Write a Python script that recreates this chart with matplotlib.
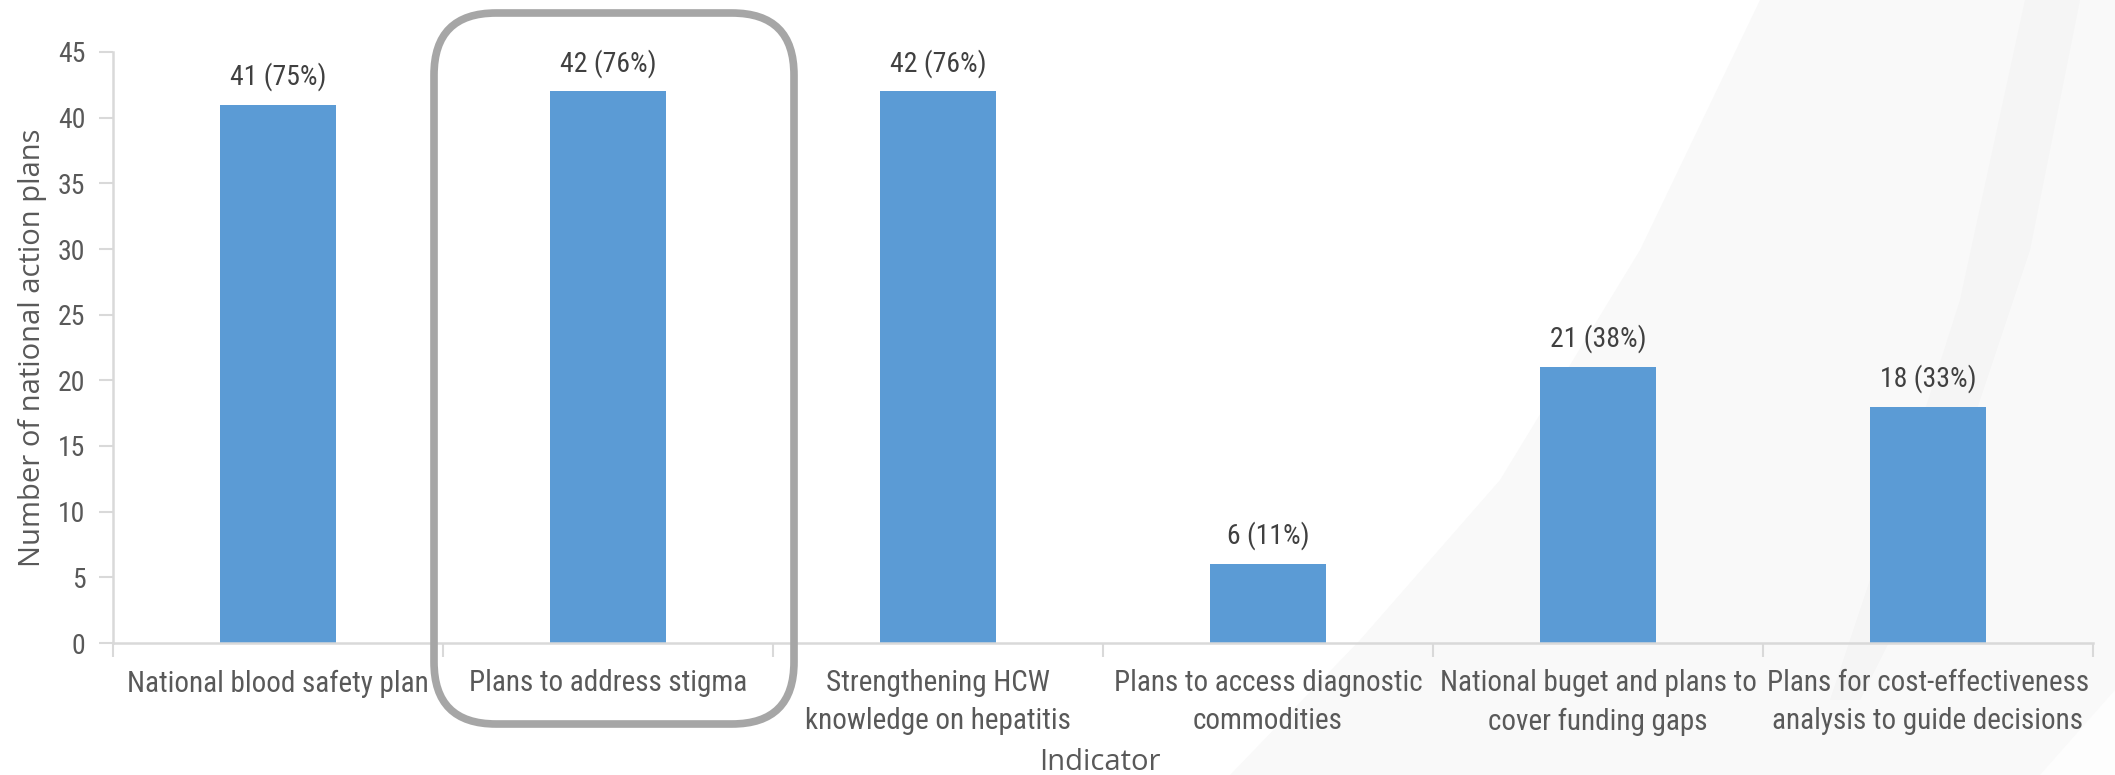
import matplotlib
matplotlib.use("Agg")
import matplotlib.pyplot as plt
from matplotlib.patches import FancyBboxPatch, Polygon
from matplotlib.transforms import IdentityTransform
import numpy as np

categories = [
    "National blood safety plan",
    "Plans to address stigma",
    "Strengthening HCW\nknowledge on hepatitis",
    "Plans to access diagnostic\ncommodities",
    "National buget and plans to\ncover funding gaps",
    "Plans for cost-effectiveness\nanalysis to guide decisions",
]
counts = [41, 42, 42, 6, 21, 18]
percents = [75, 76, 76, 11, 38, 33]
y_ticks = [0, 5, 10, 15, 20, 25, 30, 35, 40, 45]

NARROW = ["Liberation Sans Narrow", "Roboto Condensed", "DejaVu Sans"]
WIDE = ["Open Sans", "DejaVu Sans"]
TXT = "#595959"
GRID = "#D9D9D9"
BAR = "#5B9BD5"

W, H = 2115, 775
fig = plt.figure(figsize=(W / 100, H / 100), dpi=100)
fig.patch.set_facecolor("white")


def px(points):
    return [[x, H - y] for x, y in points]


# faint background swooshes (pixel coordinates, y measured from top)
fig.patches.append(Polygon(px([(1760, 0), (1640, 250), (1500, 480), (1360, 640), (1230, 775),
                               (2115, 775), (2115, 0)]),
                           closed=True, transform=IdentityTransform(), facecolor="#F9F9F9",
                           edgecolor="none", zorder=-2))
fig.patches.append(Polygon(px([(2025, 0), (2080, 0), (2030, 250), (1960, 460), (1900, 620), (1860, 700),
                               (1830, 700), (1890, 520), (1960, 300)]),
                           closed=True, transform=IdentityTransform(), facecolor="#F5F5F5",
                           edgecolor="none", zorder=-1))
fig.patches.append(Polygon(px([(2115, 690), (2040, 775), (2115, 775)]),
                           closed=True, transform=IdentityTransform(), facecolor="#FDFDFD",
                           edgecolor="none", zorder=-1))

ax = fig.add_axes([113 / W, 1 - 643 / H, 1980 / W, 591 / H])
ax.set_facecolor("none")
ax.set_zorder(1)

x = np.arange(len(categories))
ax.bar(x, counts, width=0.354, color=BAR, zorder=2)
for xi, c, p in zip(x, counts, percents):
    ax.annotate(f"{c} ({p}%)", (xi, c), xytext=(0, 10), textcoords="offset points",
                ha="center", va="bottom", fontsize=20, color="#404040", family=NARROW)

ax.set_xlim(-0.5, len(categories) - 0.5)
ax.set_ylim(0, 45)
ax.set_yticks(y_ticks)
ax.set_yticklabels([str(v) for v in y_ticks], family=NARROW, fontsize=20, color=TXT)
ax.set_xticks(x)
ax.set_xticklabels(categories, family=NARROW, fontsize=21, color=TXT, linespacing=1.45)
ax.set_xticks(np.arange(-0.5, len(categories)), minor=True)
ax.tick_params(axis="x", which="major", length=0, pad=19)
ax.tick_params(axis="x", which="minor", length=10, color=GRID, width=1.5)
ax.tick_params(axis="y", length=10, color=GRID, width=1.5, pad=10)

for s in ["top", "right"]:
    ax.spines[s].set_visible(False)
for s in ["left", "bottom"]:
    ax.spines[s].set_color(GRID)
    ax.spines[s].set_linewidth(1.8)

ax.set_ylabel("Number of national action plans", fontsize=21, color=TXT, family=WIDE, labelpad=8)
fig.text(1100 / W, 1 - 763 / H, "Indicator", fontsize=21, color=TXT, family=WIDE,
         ha="center", va="center")

# highlight box around "Plans to address stigma"
box = FancyBboxPatch((434, H - 724), 360, 711, boxstyle="round,pad=0,rounding_size=62",
                     transform=IdentityTransform(), facecolor="none", edgecolor="#A6A6A6",
                     linewidth=5.5, zorder=10)
fig.patches.append(box)
fig.patches.sort(key=lambda p: p.get_zorder())

fig.savefig("out.png", dpi=100)
